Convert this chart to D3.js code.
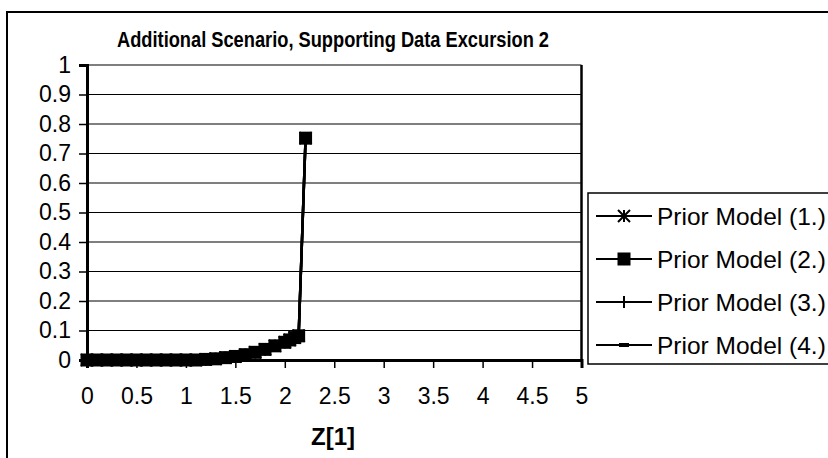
<!DOCTYPE html>
<html>
<head>
<meta charset="utf-8">
<script src="https://cdn.jsdelivr.net/npm/d3@7"></script>
<style>
  html, body { margin: 0; padding: 0; background: #fff; }
  svg { display: block; }
  text { font-family: Arial, "Liberation Sans", sans-serif; fill: #000; }
</style>
</head>
<body>
<div id="chart"></div>
<script>
// ---- data ----
const title = "Additional Scenario, Supporting Data Excursion 2";
const xAxisTitle = "Z[1]";
const seriesNames = ["Prior Model (1.)", "Prior Model (2.)", "Prior Model (3.)", "Prior Model (4.)"];
const xTicks = [0, 0.5, 1, 1.5, 2, 2.5, 3, 3.5, 4, 4.5, 5];
const yTicks = [0, 0.1, 0.2, 0.3, 0.4, 0.5, 0.6, 0.7, 0.8, 0.9, 1];
const zValues = [0, 0.1, 0.2, 0.3, 0.4, 0.5, 0.6, 0.7, 0.8, 0.9, 1.0, 1.1, 1.2, 1.3, 1.4, 1.5, 1.6, 1.7, 1.8, 1.9, 2.0, 2.05, 2.1, 2.14, 2.21];
const model1 = [0, 0, 0, 0, 0, 0, 0, 0, 0, 0, 0, 0, 0.002, 0.004, 0.008, 0.012, 0.018, 0.026, 0.036, 0.048, 0.06, 0.068, 0.076, 0.082, 0.752];
const model2 = [0, 0, 0, 0, 0, 0, 0, 0, 0, 0, 0, 0, 0.002, 0.004, 0.008, 0.012, 0.018, 0.026, 0.036, 0.048, 0.06, 0.068, 0.076, 0.082, 0.752];
const model3 = [0, 0, 0, 0, 0, 0, 0, 0, 0, 0, 0, 0, 0.002, 0.004, 0.008, 0.012, 0.018, 0.026, 0.036, 0.048, 0.06, 0.068, 0.076, 0.082, 0.752];
const model4 = [0, 0, 0, 0, 0, 0, 0, 0, 0, 0, 0, 0, 0.002, 0.004, 0.008, 0.012, 0.018, 0.026, 0.036, 0.048, 0.06, 0.068, 0.076, 0.082, 0.752];
const markerTypes = ["asterisk", "square", "plus", "dash"];

// ---- layout ----
const W = 828, H = 458;
const svg = d3.select("#chart").append("svg").attr("width", W).attr("height", H);

const x = d3.scaleLinear().domain([0, 5]).range([87, 581.5]);
const y = d3.scaleLinear().domain([0, 1]).range([360, 65]);

// outer chart border (extends beyond the picture on right and bottom)
svg.append("rect").attr("x", 7).attr("y", 12).attr("width", W + 20).attr("height", H + 20)
  .attr("fill", "none").attr("stroke", "#000").attr("stroke-width", 2);

// title
svg.append("text").attr("x", 333).attr("y", 47).attr("text-anchor", "middle")
  .attr("font-size", 22.5).attr("font-weight", "bold")
  .attr("textLength", 432).attr("lengthAdjust", "spacingAndGlyphs").text(title);

// gridlines
svg.append("g").selectAll("line").data(yTicks.filter(d => d > 0)).join("line")
  .attr("x1", x(0)).attr("x2", x(5)).attr("y1", d => y(d)).attr("y2", d => y(d))
  .attr("stroke", "#000").attr("stroke-width", 1.2);

// plot border right
svg.append("line").attr("x1", x(5)).attr("x2", x(5)).attr("y1", y(1)).attr("y2", y(0))
  .attr("stroke", "#000").attr("stroke-width", 2.5);

// axes
const xAxis = d3.axisBottom(x).tickValues(xTicks).tickSize(8).tickPadding(20)
  .tickFormat(d3.format("~g"));
const gx = svg.append("g").attr("transform", `translate(0,${y(0)})`).call(xAxis);
gx.select(".domain").attr("stroke-width", 3);
gx.selectAll(".tick line").attr("stroke-width", 1.5);
gx.selectAll("text").attr("font-size", 23).attr("font-family", "Arial, 'Liberation Sans', sans-serif");

const yAxis = d3.axisLeft(y).tickValues(yTicks).tickSize(8).tickPadding(8)
  .tickFormat(d3.format("~g"));
const gy = svg.append("g").attr("transform", `translate(${x(0)},0)`).call(yAxis);
gy.select(".domain").attr("stroke-width", 3);
gy.selectAll(".tick line").attr("stroke-width", 1.5);
gy.selectAll("text").attr("font-size", 23).attr("font-family", "Arial, 'Liberation Sans', sans-serif");

// x axis title
svg.append("text").attr("x", 333).attr("y", 445).attr("text-anchor", "middle")
  .attr("font-size", 24).attr("font-weight", "bold").text(xAxisTitle);

// marker drawing
function drawMarker(g, type, cx, cy, scale) {
  const s = scale || 1;
  if (type === "square") {
    g.append("rect").attr("x", cx - 6.5 * s).attr("y", cy - 6.5 * s)
      .attr("width", 13 * s).attr("height", 13 * s).attr("fill", "#000");
  } else if (type === "asterisk") {
    const r = 6 * s;
    const p = `M${cx - r},${cy - r}L${cx + r},${cy + r}M${cx - r},${cy + r}L${cx + r},${cy - r}M${cx},${cy - r}L${cx},${cy + r}`;
    g.append("path").attr("d", p).attr("stroke", "#000").attr("stroke-width", 2).attr("fill", "none");
  } else if (type === "plus") {
    const r = 6 * s;
    g.append("path").attr("d", `M${cx},${cy - r}L${cx},${cy + r}`)
      .attr("stroke", "#000").attr("stroke-width", 2).attr("fill", "none");
  } else if (type === "dash") {
    g.append("rect").attr("x", cx - 5 * s).attr("y", cy - 2 * s)
      .attr("width", 10 * s).attr("height", 4 * s).attr("fill", "#000");
  }
}

// series
const allSeries = [model1, model2, model3, model4];
const line = d3.line().x(d => x(d[0])).y(d => y(d[1]));
allSeries.forEach((vals, i) => {
  const pts = zValues.map((z, j) => [z, vals[j]]);
  const g = svg.append("g");
  g.append("path").datum(pts).attr("d", line).attr("fill", "none")
    .attr("stroke", "#000").attr("stroke-width", 2.5);
  pts.forEach(p => drawMarker(g, markerTypes[i], x(p[0]), y(p[1]), 1));
});

// legend
const lg = svg.append("g");
lg.append("rect").attr("x", 588).attr("y", 193).attr("width", 260).attr("height", 171)
  .attr("fill", "#fff").attr("stroke", "#000").attr("stroke-width", 1.5);
seriesNames.forEach((name, i) => {
  const cy = 216 + i * 43;
  lg.append("line").attr("x1", 596).attr("x2", 652).attr("y1", cy).attr("y2", cy)
    .attr("stroke", "#000").attr("stroke-width", 2);
  drawMarker(lg, markerTypes[i], 624, cy, 1);
  lg.append("text").attr("x", 657).attr("y", cy + 8.5).attr("font-size", 24.5).text(name);
});
</script>
</body>
</html>
